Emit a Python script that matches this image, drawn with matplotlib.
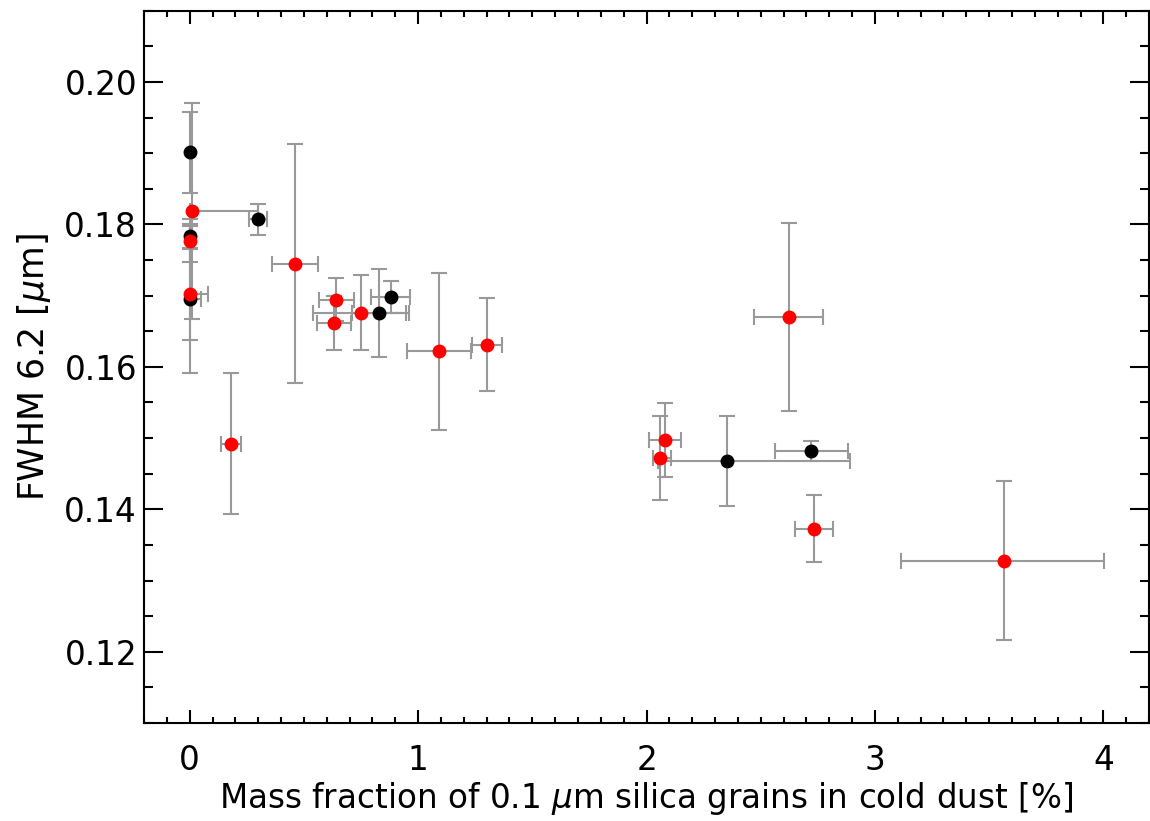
import numpy as np
import matplotlib
matplotlib.use('Agg')
import matplotlib.pyplot as plt
from matplotlib.ticker import MultipleLocator

# black points (one sample)
xb = [0.0, 0.0, 0.0, 0.299, 0.829, 0.88, 2.351, 2.722]
yb = [0.1901, 0.1783, 0.1695, 0.1807, 0.1676, 0.1698, 0.1468, 0.1482]
xb_lo = [0.0, 0.0, 0.0, 0.04, 0.12, 0.084, 0.30, 0.16]
xb_hi = [0.0, 0.0, 0.05, 0.04, 0.12, 0.084, 0.54, 0.16]
yb_err = [0.0057, 0.0017, 0.0103, 0.0022, 0.0062, 0.0022, 0.0063, 0.0014]

# red points (other sample)
xr = [0.01, 0.0, 0.0, 0.18, 0.461, 0.641, 0.632, 0.75, 1.091, 1.301,
      2.082, 2.06, 2.622, 2.732, 3.563]
yr = [0.1819, 0.1777, 0.1702, 0.1492, 0.1745, 0.1694, 0.1661, 0.1676, 0.1622, 0.1631,
      0.1497, 0.1472, 0.1670, 0.1373, 0.1328]
xr_lo = [0.01, 0.0, 0.0, 0.044, 0.10, 0.077, 0.075, 0.21, 0.141, 0.066,
         0.07, 0.03, 0.15, 0.084, 0.45]
xr_hi = [0.29, 0.0, 0.08, 0.044, 0.10, 0.077, 0.075, 0.21, 0.141, 0.066,
         0.07, 0.045, 0.15, 0.084, 0.44]
yr_err = [0.0152, 0.0030, 0.0065, 0.0099, 0.0168, 0.0030, 0.0038, 0.0053, 0.0110, 0.0065,
          0.0052, 0.0059, 0.0132, 0.0047, 0.0112]

plt.rcParams['font.family'] = ['DejaVu Sans']
plt.rcParams['mathtext.fontset'] = 'dejavusans'

fig = plt.figure(figsize=(11.5, 8.21), dpi=100)
ax = fig.add_axes([0.1252, 0.1194, 0.8740, 0.8676])

ebkw = dict(fmt='none', ecolor='#999999', elinewidth=1.5, capsize=6, capthick=1.5, zorder=1)
ax.errorbar(xb, yb, xerr=[xb_lo, xb_hi], yerr=yb_err, **ebkw)
ax.errorbar(xr, yr, xerr=[xr_lo, xr_hi], yerr=yr_err, **ebkw)
ax.plot(xb, yb, 'o', color='black', markersize=9, zorder=3)
ax.plot(xr, yr, 'o', color='red', markersize=9, zorder=4)

ax.set_xlim(-0.2, 4.2)
ax.set_ylim(0.11, 0.21)
ax.xaxis.set_major_locator(MultipleLocator(1))
ax.xaxis.set_minor_locator(MultipleLocator(0.1))
ax.yaxis.set_major_locator(MultipleLocator(0.02))
ax.yaxis.set_minor_locator(MultipleLocator(0.005))
ax.yaxis.set_major_formatter(matplotlib.ticker.FormatStrFormatter('%.2f'))

for s in ax.spines.values():
    s.set_linewidth(1.5)
ax.tick_params(axis='both', which='both', direction='in', top=True, right=True, width=1.5, labelsize=23.5)
ax.tick_params(axis='x', which='major', length=9.4, pad=15)
ax.tick_params(axis='x', which='minor', length=4.3)
ax.tick_params(axis='y', which='major', length=13.7, pad=5)
ax.tick_params(axis='y', which='minor', length=6.8)

ax.set_xlabel(r'Mass fraction of 0.1 $\mu$m silica grains in cold dust [%]', fontsize=23.5, labelpad=2)
ax.set_ylabel(r'FWHM 6.2 [$\mu$m]', fontsize=25, labelpad=8)

fig.savefig('out.png', dpi=100)
